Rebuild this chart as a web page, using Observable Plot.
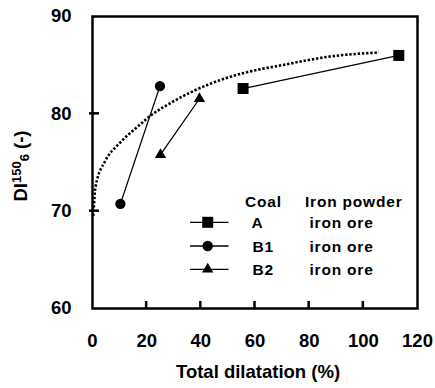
<!DOCTYPE html>
<html>
<head>
<meta charset="utf-8">
<script src="https://cdn.jsdelivr.net/npm/d3@7"></script>
<script src="https://cdn.jsdelivr.net/npm/@observablehq/plot@0.6"></script>
<style>
  html, body { margin: 0; padding: 0; background: #fff; }
  svg { display: block; }
</style>
</head>
<body>
<div id="chart"></div>
<script>
// Data
const seriesA_x = [55.6, 113.1];
const seriesA_y = [82.6, 86.0];
const seriesB1_x = [10.3, 24.9];
const seriesB1_y = [70.75, 82.85];
const seriesB2_x = [25.1, 39.5];
const seriesB2_y = [75.8, 81.55];
const fit_x = [0.3, 1.1, 4.8, 9.7, 15.9, 21.4, 30.0, 43.6, 55.9, 70.0, 88.0, 105.7];
const fit_y = [69.5, 72.5, 75.2, 76.9, 78.5, 79.8, 81.3, 83.1, 84.2, 85.0, 85.9, 86.3];
const xTicks = [0, 20, 40, 60, 80, 100, 120];
const yTicks = [60, 70, 80, 90];
const xInnerTicks = [20, 40, 60, 80, 100];
const yInnerTicks = [70, 80];
const legendCoal = ["A", "B1", "B2"];
const legendPowder = ["iron ore", "iron ore", "iron ore"];
const legendSymbols = ["square", "circle", "triangle"];

const toRows = (xs, ys) => xs.map((x, i) => ({x, y: ys[i]}));
const A = toRows(seriesA_x, seriesA_y);
const B1 = toRows(seriesB1_x, seriesB1_y);
const B2 = toRows(seriesB2_x, seriesB2_y);
const fit = toRows(fit_x, fit_y);

const font = "'Liberation Sans', Arial, Helvetica, sans-serif";
const symR = {square: 6.2, circle: 5.2, triangle: 4.2};
const tickLen = 7;

const plot = Plot.plot({
  width: 435,
  height: 388,
  marginLeft: 92,
  marginRight: 18,
  marginTop: 16,
  marginBottom: 80,
  style: {fontFamily: font, background: "#fff", color: "#000"},
  x: {domain: [0, 120], ticks: xTicks},
  y: {domain: [60, 90], ticks: yTicks},
  marks: [
    Plot.axisX({ticks: xTicks, tickSize: 0, tickPadding: 25, fontSize: 18.5, fontWeight: "bold", label: null}),
    Plot.axisY({ticks: yTicks, tickSize: 0, tickPadding: 21, fontSize: 18.5, fontWeight: "bold", label: null}),
    Plot.frame({stroke: "#000", strokeWidth: 2.5}),
    Plot.line(fit, {x: "x", y: "y", curve: "monotone-x", stroke: "#000", strokeWidth: 2.6, strokeDasharray: "2.4,1.8", strokeLinecap: "butt"}),
    Plot.line(A, {x: "x", y: "y", stroke: "#000", strokeWidth: 1.3}),
    Plot.line(B1, {x: "x", y: "y", stroke: "#000", strokeWidth: 1.3}),
    Plot.line(B2, {x: "x", y: "y", stroke: "#000", strokeWidth: 1.3}),
    Plot.dot(A, {x: "x", y: "y", symbol: "square", r: symR.square, fill: "#000", stroke: "none"}),
    Plot.dot(B1, {x: "x", y: "y", symbol: "circle", r: symR.circle, fill: "#000", stroke: "none"}),
    Plot.dot(B2, {x: "x", y: "y", symbol: "triangle", r: symR.triangle, fill: "#000", stroke: "none"})
  ]
});

const svg = d3.select(plot);
const sx = plot.scale("x"), sy = plot.scale("y");
const x0 = sx.apply(0), yBase = sy.apply(60);

// inward ticks
const tg = svg.append("g").attr("stroke", "#000").attr("stroke-width", 2.5);
xInnerTicks.forEach(v => {
  const px = sx.apply(v);
  tg.append("line").attr("x1", px).attr("x2", px).attr("y1", yBase).attr("y2", yBase - tickLen);
});
yInnerTicks.forEach(v => {
  const py = sy.apply(v);
  tg.append("line").attr("x1", x0 - 3).attr("x2", x0 + tickLen).attr("y1", py).attr("y2", py);
});

// x-axis title
svg.append("text")
  .attr("x", 258).attr("y", 378)
  .attr("text-anchor", "middle")
  .attr("font-family", font).attr("font-size", 18.5).attr("font-weight", "bold")
  .text("Total dilatation (%)");

// y-axis title with super/subscript
const yt = svg.append("text")
  .attr("transform", "translate(26.5,166) rotate(-90)")
  .attr("text-anchor", "middle")
  .attr("font-family", font).attr("font-size", 18.5).attr("font-weight", "bold");
yt.append("tspan").text("DI");
yt.append("tspan").attr("font-size", 13).attr("dy", -6).text("150");
yt.append("tspan").attr("font-size", 13).attr("dy", 8).text("6");
yt.append("tspan").attr("dy", -2).text(" (-)");

// legend
const lg = svg.append("g")
  .attr("font-family", font).attr("font-size", 15.5).attr("font-weight", "bold")
  .attr("text-anchor", "start")
  .attr("letter-spacing", 0.8);
lg.append("text").attr("x", 245).attr("y", 207).text("Coal");
lg.append("text").attr("x", 305).attr("y", 207).text("Iron powder");
const rowY = [222.3, 246, 269.3];
legendCoal.forEach((c, i) => {
  const y = rowY[i];
  lg.append("line").attr("x1", 190).attr("x2", 228.5).attr("y1", y).attr("y2", y)
    .attr("stroke", "#000").attr("stroke-width", 1.3);
  const s = legendSymbols[i];
  const sym = s === "square" ? d3.symbolSquare : s === "circle" ? d3.symbolCircle : d3.symbolTriangle;
  lg.append("path")
    .attr("d", d3.symbol(sym, Math.PI * symR[s] * symR[s])())
    .attr("transform", `translate(207.7,${y})`)
    .attr("fill", "#000");
  lg.append("text").attr("x", c === "A" ? 251.5 : 252.5).attr("y", y + 6).text(c);
  lg.append("text").attr("x", 309.5).attr("y", y + 6).text(legendPowder[i]);
});

document.getElementById("chart").appendChild(plot);
</script>
</body>
</html>
